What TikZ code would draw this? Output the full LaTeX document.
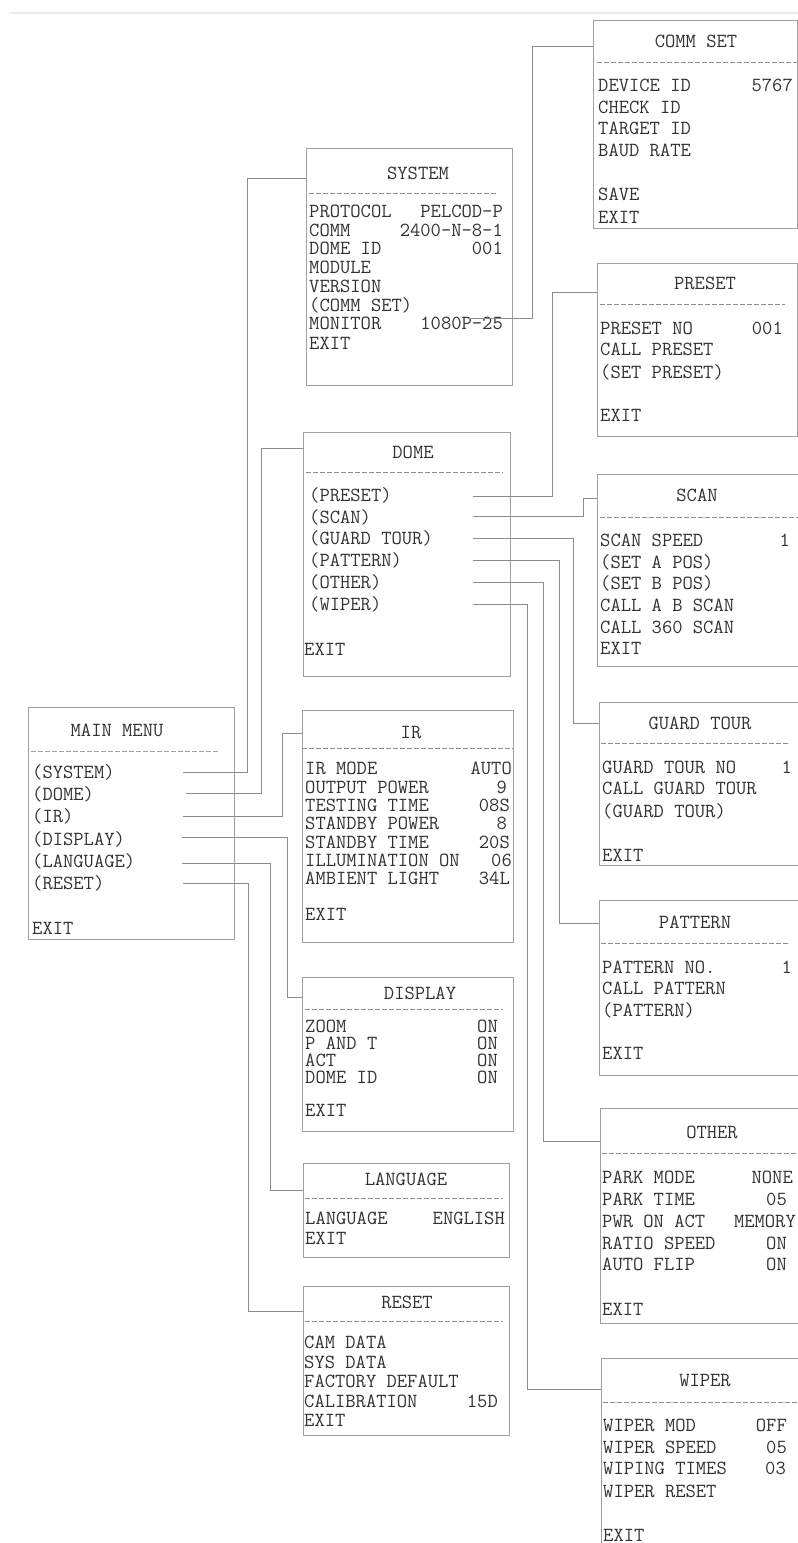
\documentclass[tikz,border=0pt]{standalone}
\usepackage{fontspec}
\usepackage{tikz}
\usetikzlibrary{positioning,calc}
\definecolor{ink}{RGB}{50,50,50}
\definecolor{frame}{RGB}{160,160,160}
\definecolor{wire}{RGB}{140,140,140}
\newcommand{\osdfont}{\ttfamily\fontsize{20}{20}\selectfont}
\tikzset{
  menubox/.style={draw=frame,line width=0.9pt,anchor=north west,inner sep=0pt,outer sep=0pt},
  osd/.style={font=\osdfont,text=ink,inner sep=0pt,text height=12pt,text depth=0pt},
  lab/.style={osd,anchor=west},
  val/.style={osd,anchor=east},
  dashrule/.style={draw=wire,line width=0.8pt,dash pattern=on 4.5pt off 2.5pt},
  wireline/.style={draw=wire,line width=0.9pt},
}

\begin{document}
\begin{tikzpicture}[x=1pt,y=-1pt]
  \useasboundingbox (0,0) rectangle (798,1543);
  \clip (0,0) rectangle (798,1543);
  \draw[black!8,line width=2.5pt] (9,13) -- (798,13);

  % main menu
  \node[menubox,minimum width=206pt,minimum height=232pt] (main) at (28,707) {};
  \node[osd] (main-t) at (117,730) {MAIN MENU};
  \draw[dashrule,draw=frame] (31,751) -- (220,751);
  \foreach \y/\txt [count=\i] in {772/(SYSTEM),794/(DOME),816/(IR),839/(DISPLAY),861/(LANGUAGE),883/(RESET),928/EXIT}
    \node[lab] (main-\i) at (32,\y) {\txt};

  % system
  \node[menubox,minimum width=206pt,minimum height=237pt] (system) at (306,148) {};
  \node[osd] (system-t) at (418,173) {SYSTEM};
  \draw[dashrule] (309,193) -- (497,193);
  \foreach \y/\txt [count=\i] in {211/PROTOCOL,230/COMM,248/DOME ID,267/MODULE,286/VERSION,305/(COMM SET),323/MONITOR,343/EXIT}
    \node[lab] (system-\i) at (309,\y) {\txt};
  \foreach \y/\txt [count=\i] in {211/PELCOD-P,230/2400-N-8-1,248/001,323/1080P-25}
    \node[val] (system-v\i) at (503,\y) {\txt};

  % comm set
  \node[menubox,minimum width=204pt,minimum height=208pt] (comm) at (593,20) {};
  \node[osd] (comm-t) at (696,41) {COMM SET};
  \draw[dashrule] (597,62) -- (797,62);
  \foreach \y/\txt [count=\i] in {85/DEVICE ID,107/CHECK ID,128/TARGET ID,150/BAUD RATE,194/SAVE,217/EXIT}
    \node[lab] (comm-\i) at (598,\y) {\txt};
  \node[val] (comm-v1) at (793,85) {5767};

  % dome
  \node[menubox,minimum width=207pt,minimum height=244pt] (dome) at (303,432) {};
  \node[osd] (dome-t) at (413,452) {DOME};
  \draw[dashrule] (306,472) -- (503,472);
  \foreach \y/\txt [count=\i] in {495/(PRESET),517/(SCAN),538/(GUARD TOUR),560/(PATTERN),582/(OTHER),604/(WIPER)}
    \node[lab] (dome-\i) at (309,\y) {\txt};
  \node[lab] (dome-exit) at (304,649) {EXIT};

  % preset
  \node[menubox,minimum width=200pt,minimum height=173pt] (preset) at (597,263) {};
  \node[osd] (preset-t) at (705,283) {PRESET};
  \draw[dashrule] (600,304) -- (785,304);
  \foreach \y/\txt [count=\i] in {328/PRESET NO,349/CALL PRESET,372/(SET PRESET),415/EXIT}
    \node[lab] (preset-\i) at (600,\y) {\txt};
  \node[val] (preset-v1) at (783,328) {001};

  % scan
  \node[menubox,minimum width=210pt,minimum height=192pt] (scan) at (597,474) {};
  \node[osd] (scan-t) at (697,495) {SCAN};
  \draw[dashrule] (600,517) -- (798,517);
  \foreach \y/\txt [count=\i] in {540/SCAN SPEED,562/(SET A POS),583/(SET B POS),605/CALL A B SCAN,627/CALL 360 SCAN,648/EXIT}
    \node[lab] (scan-\i) at (600,\y) {\txt};
  \node[val] (scan-v1) at (790,540) {1};

  % ir
  \node[menubox,minimum width=211pt,minimum height=232pt] (ir) at (302,710) {};
  \node[osd] (ir-t) at (411,732) {IR};
  \draw[dashrule] (302,748) -- (513,748);
  \foreach \y/\txt [count=\i] in {768/IR MODE,787/OUTPUT POWER,805/TESTING TIME,823/STANDBY POWER,842/STANDBY TIME,860/ILLUMINATION ON,878/AMBIENT LIGHT,914/EXIT}
    \node[lab] (ir-\i) at (305,\y) {\txt};
  \foreach \x/\y/\txt [count=\i] in {512/768/AUTO,507/787/9,510/805/08S,507/823/8,510/842/20S,512/860/06,510/878/34L}
    \node[val] (ir-v\i) at (\x,\y) {\txt};

  % display
  \node[menubox,minimum width=211pt,minimum height=154pt] (display) at (302,977) {};
  \node[osd] (display-t) at (420,993) {DISPLAY};
  \draw[dashrule] (305,1009) -- (503,1009);
  \foreach \y/\txt [count=\i] in {1026/ZOOM,1043/P AND T,1060/ACT,1077/DOME ID,1110/EXIT}
    \node[lab] (display-\i) at (305,\y) {\txt};
  \foreach \y [count=\i] in {1026,1043,1060,1077}
    \node[val] (display-v\i) at (498,\y) {ON};

  % language
  \node[menubox,minimum width=206pt,minimum height=94pt] (language) at (303,1163) {};
  \node[osd] (language-t) at (406,1179) {LANGUAGE};
  \draw[dashrule] (305,1198) -- (503,1198);
  \node[lab] (language-1) at (305,1218) {LANGUAGE};
  \node[lab] (language-2) at (305,1238) {EXIT};
  \node[val] (language-v1) at (505,1218) {ENGLISH};

  % reset
  \node[menubox,minimum width=206pt,minimum height=149pt] (reset) at (303,1286) {};
  \node[osd] (reset-t) at (407,1302) {RESET};
  \draw[dashrule] (305,1321) -- (503,1321);
  \foreach \y/\txt [count=\i] in {1342/CAM DATA,1362/SYS DATA,1381/FACTORY DEFAULT,1401/CALIBRATION,1420/EXIT}
    \node[lab] (reset-\i) at (304,\y) {\txt};
  \node[val] (reset-v1) at (498,1401) {15D};

  % guard tour
  \node[menubox,minimum width=210pt,minimum height=163pt] (guard) at (599,702) {};
  \node[osd] (guard-t) at (700,723) {GUARD TOUR};
  \draw[dashrule] (601,743) -- (788,743);
  \foreach \y/\txt [count=\i] in {767/GUARD TOUR NO,788/CALL GUARD TOUR,811/(GUARD TOUR),855/EXIT}
    \node[lab] (guard-\i) at (602,\y) {\txt};
  \node[val] (guard-v1) at (792,767) {1};

  % pattern
  \node[menubox,minimum width=210pt,minimum height=175pt] (pattern) at (599,900) {};
  \node[osd] (pattern-t) at (695,922) {PATTERN};
  \draw[dashrule] (601,943) -- (788,943);
  \foreach \y/\txt [count=\i] in {967/PATTERN NO.,988/CALL PATTERN,1010/(PATTERN),1053/EXIT}
    \node[lab] (pattern-\i) at (602,\y) {\txt};
  \node[val] (pattern-v1) at (792,967) {1};

  % other
  \node[menubox,minimum width=210pt,minimum height=215pt] (other) at (600,1108) {};
  \node[osd] (other-t) at (712,1132) {OTHER};
  \draw[dashrule] (602,1153) -- (798,1153);
  \foreach \y/\txt [count=\i] in {1177/PARK MODE,1199/PARK TIME,1221/PWR ON ACT,1243/RATIO SPEED,1264/AUTO FLIP,1309/EXIT}
    \node[lab] (other-\i) at (602,\y) {\txt};
  \foreach \x/\y/\txt [count=\i] in {793/1177/NONE,787/1199/05,796/1221/MEMORY,787/1243/ON,787/1264/ON}
    \node[val] (other-v\i) at (\x,\y) {\txt};

  % wiper
  \node[menubox,minimum width=210pt,minimum height=200pt] (wiper) at (601,1358) {};
  \node[osd] (wiper-t) at (705,1380) {WIPER};
  \draw[dashrule] (603,1402) -- (798,1402);
  \foreach \y/\txt [count=\i] in {1425/WIPER MOD,1447/WIPER SPEED,1468/WIPING TIMES,1491/WIPER RESET,1535/EXIT}
    \node[lab] (wiper-\i) at (603,\y) {\txt};
  \foreach \x/\y/\txt [count=\i] in {787/1425/OFF,787/1447/05,786/1468/03}
    \node[val] (wiper-v\i) at (\x,\y) {\txt};

  % link ends
  \coordinate (m-sys) at (183,772);   \coordinate (sys-in) at (306,178);
  \coordinate (m-dome) at (186,793);  \coordinate (dome-in) at (303,448);
  \coordinate (m-ir) at (183,816);    \coordinate (ir-in) at (302,733);
  \coordinate (m-disp) at (182,837);  \coordinate (disp-in) at (302,997);
  \coordinate (m-lang) at (182,863);  \coordinate (lang-in) at (303,1190);
  \coordinate (m-reset) at (183,883); \coordinate (reset-in) at (303,1311);
  \coordinate (s-comm) at (468,318);  \coordinate (comm-in) at (593,46);
  \coordinate (d-pre) at (473,496);   \coordinate (pre-in) at (597,292);
  \coordinate (d-scan) at (473,516);  \coordinate (scan-in) at (597,498);
  \coordinate (d-gt) at (473,538);    \coordinate (gt-in) at (599,723);
  \coordinate (d-pat) at (473,560);   \coordinate (pat-in) at (599,923);
  \coordinate (d-oth) at (473,582);   \coordinate (oth-in) at (600,1141);
  \coordinate (d-wip) at (473,604);   \coordinate (wip-in) at (601,1389);

  % menu links
  \foreach \src/\dx/\dst in {m-sys/64/sys-in,m-dome/75/dome-in,m-ir/99/ir-in,m-disp/105/disp-in,
      m-lang/88/lang-in,m-reset/65/reset-in,s-comm/64/comm-in,d-pre/79/pre-in,d-scan/110/scan-in,
      d-gt/100/gt-in,d-pat/86/pat-in,d-oth/70/oth-in,d-wip/54/wip-in}
    \draw[wireline] (\src) -- ++(\dx,0) |- (\dst);
\end{tikzpicture}
\end{document}
